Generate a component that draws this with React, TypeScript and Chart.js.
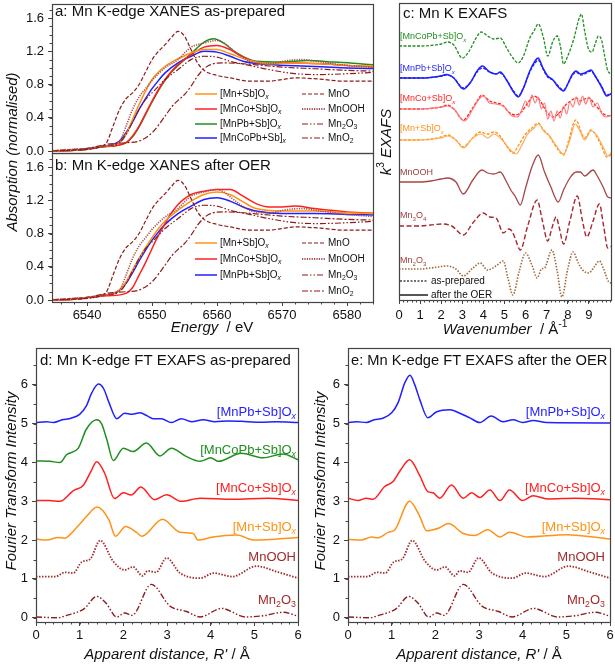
import React, { useEffect, useRef } from "react";
import { Chart, registerables } from "chart.js";

Chart.register(...registerables);

const FONT = '"Liberation Sans", Arial, Helvetica, sans-serif';
const W = 615;
const H = 664;

// ---------- colours ----------
const C_ORANGE = "#ff9214";
const C_RED = "#ff1f1f";
const C_GREEN = "#1f8f1f";
const C_BLUE = "#1f1fff";
const C_DARKRED = "#8e1b1b";
const C_BROWN = "#a8504a";
const C_TAN = "#a06a3a";

// ---------- XANES (a: as-prepared) [energy eV, normalised absorption] ----------
const xanesPrepMnSb = [[6534,0],[6538,0.01],[6540,0.02],[6542,0.05],[6544,0.07],[6545,0.1],[6546,0.2],[6547,0.38],[6548,0.56],[6549,0.72],[6550,0.86],[6551,0.95],[6552,1.02],[6553,1.07],[6554,1.11],[6556,1.18],[6558,1.22],[6560,1.22],[6562,1.17],[6565,1.09],[6568,1.05],[6572,1.06],[6576,1.05],[6580,1.03],[6585,1.02]];
const xanesPrepMnCoSb = [[6534,0],[6538,0.01],[6540,0.02],[6542,0.05],[6544,0.06],[6546,0.1],[6547,0.18],[6548,0.3],[6549,0.45],[6550,0.6],[6551,0.74],[6552,0.86],[6553,0.96],[6554,1.04],[6556,1.16],[6558,1.25],[6560,1.27],[6562,1.22],[6564,1.13],[6566,1.07],[6568,1.05],[6572,1.06],[6576,1.05],[6580,1.03],[6585,1.01]];
const xanesPrepMnPbSb = [[6534,0],[6538,0.01],[6540,0.02],[6542,0.05],[6544,0.06],[6546,0.1],[6547,0.17],[6548,0.29],[6549,0.44],[6550,0.59],[6551,0.73],[6552,0.85],[6553,0.95],[6554,1.03],[6556,1.17],[6558,1.31],[6559.5,1.35],[6561,1.3],[6563,1.18],[6566,1.08],[6570,1.07],[6574,1.09],[6578,1.07],[6582,1.05],[6585,1.03]];
const xanesPrepMnCoPbSb = [[6534,0],[6538,0.01],[6540,0.03],[6542,0.05],[6544,0.08],[6545,0.12],[6546,0.22],[6547,0.35],[6548,0.5],[6549,0.63],[6550,0.75],[6551,0.85],[6552,0.94],[6554,1.06],[6556,1.14],[6558,1.2],[6560,1.19],[6562,1.14],[6564,1.08],[6568,1.04],[6574,1.02],[6580,1.0],[6585,0.99]];

// reference oxides
const refMnO = [[6534,0],[6538,0.01],[6540,0.02],[6542,0.05],[6543,0.1],[6544,0.3],[6545,0.5],[6546,0.63],[6547,0.7],[6548,0.8],[6549,0.95],[6550,1.1],[6551,1.2],[6552,1.28],[6553,1.37],[6554,1.44],[6555,1.38],[6556,1.22],[6557,1.06],[6558,0.97],[6560,0.91],[6562,0.88],[6565,0.84],[6568,0.84],[6570,0.86],[6572,0.88],[6575,0.87],[6580,0.84],[6585,0.84]];
const refMnOOH = [[6534,0],[6538,0.02],[6540,0.03],[6543,0.06],[6545,0.12],[6546,0.3],[6547,0.5],[6548,0.65],[6549,0.75],[6550,0.85],[6552,1.0],[6554,1.1],[6555,1.18],[6556,1.25],[6557,1.28],[6558,1.3],[6560,1.33],[6561,1.3],[6563,1.18],[6565,1.08],[6568,1.05],[6571,1.09],[6573,1.1],[6576,1.07],[6580,1.03],[6585,1.0]];
const refMn2O3 = [[6534,0],[6538,0.01],[6540,0.02],[6543,0.06],[6545,0.1],[6546,0.2],[6547,0.35],[6548,0.5],[6549,0.62],[6550,0.7],[6551,0.78],[6552,0.86],[6554,0.98],[6556,1.1],[6558,1.14],[6560,1.13],[6562,1.08],[6565,1.03],[6568,0.98],[6572,0.93],[6576,0.92],[6580,0.93],[6585,0.95]];
const refMnO2 = [[6534,0],[6538,0.02],[6540,0.03],[6543,0.08],[6546,0.1],[6548,0.12],[6550,0.22],[6552,0.42],[6553,0.53],[6554,0.61],[6555,0.68],[6556,0.78],[6557,0.9],[6558,0.99],[6559,1.04],[6561,1.06],[6564,1.05],[6567,1.03],[6570,1.01],[6575,0.99],[6580,0.97],[6585,0.96]];

// ---------- XANES (b: after OER) ----------
const xanesOerMnSb = [[6534,0],[6538,0.01],[6540,0.03],[6542,0.05],[6544,0.08],[6545,0.12],[6546,0.22],[6547,0.36],[6548,0.5],[6549,0.63],[6550,0.75],[6551,0.86],[6552,0.95],[6554,1.08],[6556,1.19],[6558,1.27],[6560,1.3],[6562,1.27],[6564,1.18],[6566,1.1],[6570,1.07],[6575,1.07],[6580,1.05],[6585,1.04]];
const xanesOerMnCoSb = [[6534,0],[6538,0.01],[6540,0.03],[6543,0.05],[6546,0.08],[6547,0.15],[6548,0.3],[6549,0.45],[6550,0.62],[6551,0.78],[6552,0.92],[6553,1.05],[6554,1.15],[6555,1.22],[6556,1.27],[6558,1.31],[6560,1.33],[6562,1.33],[6564,1.25],[6566,1.16],[6568,1.12],[6570,1.12],[6572,1.13],[6575,1.1],[6580,1.06],[6585,1.04]];
const xanesOerMnPbSb = [[6534,0],[6538,0.01],[6540,0.03],[6542,0.05],[6544,0.08],[6545,0.12],[6546,0.2],[6547,0.33],[6548,0.47],[6549,0.6],[6550,0.72],[6551,0.82],[6552,0.91],[6554,1.04],[6556,1.13],[6558,1.21],[6560,1.23],[6562,1.19],[6564,1.12],[6566,1.07],[6570,1.04],[6575,1.04],[6580,1.03],[6585,1.02]];

// ---------- k3 EXAFS (c) [k / A^-1, k3 chi (stack units)] ----------
const exafsOffsets = { MnCoPbSb: 254, MnPbSb: 222, MnCoSb: 191, MnSb: 160, MnOOH: 118, Mn3O4: 74, Mn2O3: 31 };
const exafsPrepMnCoPbSb = [[0,0],[0.5,0],[1,0],[1.5,0.5],[2,2],[2.3,4],[2.6,1],[3.0,-12],[3.3,-6],[3.6,6],[3.9,14],[4.2,10],[4.5,7],[4.8,8],[5.1,-2],[5.4,-12],[5.65,-17],[5.9,-10],[6.2,8],[6.4,15],[6.6,22],[6.85,8],[7.05,-10],[7.3,5],[7.5,10],[7.65,0],[7.8,-18],[8.0,-10],[8.3,8],[8.5,25],[8.65,32],[8.8,15],[9.0,-4],[9.15,-6],[9.3,2],[9.45,10],[9.6,6],[9.75,-10],[9.9,-25],[10.1,-28]];
const exafsPrepMnPbSb = [[0,0],[1,0],[1.5,0.5],[2,2],[2.25,3],[2.6,0],[3.05,-10],[3.4,-4],[3.7,6],[3.95,10],[4.3,6],[4.6,4],[4.8,5],[5.1,-2],[5.4,-12],[5.65,-18],[5.9,-10],[6.2,6],[6.45,15],[6.6,18],[6.8,10],[7.05,1],[7.3,-2],[7.55,-8],[7.8,-12],[8.0,-6],[8.2,2],[8.4,6],[8.6,3],[8.8,4],[9.1,7],[9.3,2],[9.6,-8],[9.85,-17],[10.1,-15]];
const exafsOerMnPbSb = [[0,0],[1,0],[1.5,0.5],[2,2],[2.25,3.5],[2.6,0],[3.05,-11],[3.4,-4],[3.7,7],[3.95,12],[4.3,6],[4.6,4],[4.8,6],[5.1,-2],[5.4,-13],[5.65,-19],[5.9,-10],[6.2,7],[6.45,17],[6.6,20],[6.8,11],[7.05,2],[7.3,-2],[7.55,-9],[7.8,-13],[8.0,-6],[8.2,3],[8.4,7],[8.6,4],[8.8,5],[9.1,8],[9.3,2],[9.6,-9],[9.85,-18],[10.1,-15]];
const exafsPrepMnCoSb = [[0,0],[1,0],[1.5,0.5],[2,2],[2.3,4],[2.6,0],[3.05,-11],[3.4,-2],[3.7,8],[3.93,14],[4.3,8],[4.6,6],[4.9,4],[5.2,-3],[5.5,-6],[5.8,-3],[6.1,6],[6.4,13],[6.7,8],[7.0,-3],[7.3,-8],[7.6,-4],[7.9,4],[8.2,9],[8.4,11],[8.6,8],[8.8,10],[9.0,11],[9.3,4],[9.6,-3],[9.9,-7],[10.1,-6]];
const exafsOerMnCoSb = [[0,0],[1,0],[2,2],[2.3,3],[2.6,0],[3.1,-12],[3.5,0],[3.8,10],[4.0,13],[4.3,6],[4.6,5],[5.0,2],[5.3,-6],[5.6,-8],[5.8,-2],[6.0,8],[6.15,2],[6.3,14],[6.45,6],[6.6,12],[6.75,0],[6.9,6],[7.05,-10],[7.2,-2],[7.35,-12],[7.5,-2],[7.65,-9],[7.8,3],[7.95,-5],[8.1,7],[8.25,2],[8.4,12],[8.55,4],[8.7,13],[8.85,5],[9.0,12],[9.2,2],[9.4,6],[9.6,-4],[9.8,-8],[10.1,-6]];
const exafsPrepMnSb = [[0,0],[1,0],[1.5,1],[2,3],[2.3,5],[2.7,0],[3.05,-7],[3.4,0],[3.85,8],[4.2,6],[4.5,8],[4.8,4],[5.1,-6],[5.4,-13],[5.7,-4],[6.0,6],[6.3,12],[6.6,17],[6.85,10],[7.05,6],[7.3,-2],[7.55,-10],[7.8,-15],[8.05,0],[8.3,18],[8.4,20],[8.6,10],[8.8,2],[9.1,10],[9.3,6],[9.6,-6],[9.85,-17],[10.1,-14]];
const exafsOerMnSb = [[0,0],[1,0],[2,2],[2.3,4],[2.7,0],[3.05,-8],[3.5,2],[3.9,6],[4.2,2],[4.5,6],[4.9,0],[5.2,-8],[5.55,-14],[5.8,-6],[6.1,6],[6.4,12],[6.6,16],[6.9,8],[7.1,5],[7.4,-4],[7.8,-14],[8.1,0],[8.35,16],[8.6,8],[8.8,0],[9.1,9],[9.4,4],[9.7,-8],[9.9,-16],[10.1,-12]];
const exafsMnOOH = [[0,0],[1,0],[1.5,1],[2,3],[2.3,4],[2.7,0],[3.05,-12],[3.5,2],[3.93,12],[4.2,9],[4.5,8],[4.8,10],[5.1,0],[5.3,-8],[5.5,-14],[5.75,-23],[6.0,-6],[6.3,15],[6.6,27],[6.9,10],[7.2,-5],[7.55,-20],[7.8,-8],[8.1,4],[8.4,10],[8.6,10],[8.8,6],[9.2,12],[9.4,6],[9.7,-6],[9.9,-15],[10.1,-16]];
const exafsMn3O4 = [[0,0],[1,0],[1.5,1],[2.05,2],[2.5,0],[3.05,-9],[3.5,3],[4.0,13],[4.3,9],[4.6,8],[4.95,-7],[5.2,-3],[5.35,-5],[5.5,-12],[5.75,-24],[6.1,0],[6.55,26],[6.8,5],[7.05,-15],[7.25,-2],[7.45,9],[7.6,-2],[7.8,-18],[8.1,5],[8.45,30],[8.7,5],[8.9,-11],[9.2,5],[9.5,22],[9.7,0],[9.9,-22],[10.1,-20]];
const exafsMn2O3 = [[0,0],[1,0],[1.5,1],[2.27,3],[2.7,0],[3.05,-7],[3.5,1],[3.85,6],[4.2,-1],[4.6,3],[4.95,8],[5.15,-8],[5.4,-26],[5.7,-2],[6.0,16],[6.3,4],[6.55,-9],[6.75,0],[6.9,1],[7.25,19],[7.5,-2],[7.72,-28],[8.0,0],[8.25,17],[8.5,6],[8.7,-1],[9.0,-4],[9.25,2],[9.5,8],[9.7,0],[9.95,-13],[10.1,-14]];

// ---------- FT EXAFS (d: as-prepared, e: after OER) [R' / A, intensity + offset] ----------
const ftPrepMnPbSb = [[0,5.03],[0.24,5.05],[0.4,5.03],[0.6,5.1],[0.8,5.14],[1.0,5.24],[1.15,5.45],[1.28,5.8],[1.43,6.02],[1.55,5.9],[1.67,5.55],[1.85,5.13],[2.03,5.27],[2.2,5.24],[2.38,5.28],[2.55,5.2],[2.68,5.13],[2.87,5.13],[3.1,5.03],[3.33,5.13],[3.56,5.05],[3.83,5.1],[4.1,5.05],[4.4,5.07],[4.7,5.06],[5.13,5.04],[5.5,5.05],[6,5.03]];
const ftPrepMnCoPbSb = [[0,4.04],[0.32,4.03],[0.55,4.0],[0.7,4.2],[0.97,4.37],[1.15,4.85],[1.39,5.1],[1.5,5.0],[1.62,4.6],[1.77,4.05],[2.0,4.37],[2.22,4.28],[2.53,4.5],[2.84,4.17],[3.1,4.37],[3.45,4.15],[3.76,4.03],[4.0,4.12],[4.18,4.03],[4.7,4.24],[5.2,4.12],[5.66,4.22],[6,4.07]];
const ftPrepMnCoSb = [[0,3.02],[0.3,3.02],[0.55,3.0],[0.85,3.27],[1.08,3.41],[1.25,3.75],[1.39,4.02],[1.57,3.73],[1.8,3.07],[2.0,3.22],[2.18,3.16],[2.4,3.37],[2.72,3.04],[2.99,3.17],[3.33,3.0],[3.76,3.08],[4.5,3.05],[5.3,3.08],[6,3.02]];
const ftPrepMnSb = [[0,2.03],[0.25,2.0],[0.5,2.07],[0.65,2.05],[0.95,2.35],[1.15,2.6],[1.4,2.85],[1.67,2.52],[1.82,2.1],[2.05,2.35],[2.3,2.2],[2.42,2.1],[2.9,2.54],[3.3,2.2],[3.6,2.17],[3.71,2.0],[4.05,2.08],[4.6,2.13],[5.0,2.0],[6,2.07]];
const ftMnOOH = [[0,1.06],[0.44,1.06],[0.67,1.17],[0.85,1.15],[1.05,1.44],[1.24,1.51],[1.47,1.99],[1.77,1.45],[2.03,1.23],[2.22,1.31],[2.44,1.08],[2.56,1.21],[2.75,1.17],[2.99,1.54],[3.3,1.15],[3.76,1.02],[4.07,1.15],[4.5,1.06],[5.05,1.33],[5.5,1.19],[6,1.02]];
const ftMn2O3 = [[0,0.02],[0.5,0.0],[0.7,0.06],[1.1,0.23],[1.39,0.55],[1.6,0.38],[1.85,0.02],[2.03,0.12],[2.2,0.06],[2.64,0.86],[3.07,0.3],[3.45,0.16],[3.76,0.02],[4.25,0.24],[4.8,0.02],[5.2,0.05],[5.66,0.14],[6,0.04]];
const ftOerMnPbSb = [[0,5.03],[0.2,5.05],[0.42,5.03],[0.6,5.1],[0.8,5.14],[1.0,5.28],[1.15,5.55],[1.3,6.05],[1.42,6.25],[1.53,6.0],[1.65,5.6],[1.83,5.15],[2.02,5.3],[2.33,5.36],[2.56,5.27],[2.79,5.15],[3.02,5.03],[3.28,5.2],[3.55,5.05],[3.78,5.1],[4.0,5.03],[4.24,5.08],[4.55,5.03],[6,5.02]];
const ftOerMnCoSb = [[0,3.08],[0.23,3.02],[0.42,3.08],[0.57,3.05],[0.84,3.38],[1.03,3.51],[1.2,3.8],[1.41,4.07],[1.64,3.67],[1.83,3.25],[1.95,3.22],[2.1,3.08],[2.37,3.42],[2.64,3.08],[2.83,3.22],[3.02,3.1],[3.25,3.29],[3.48,3.02],[3.7,3.29],[4.0,3.02],[4.24,3.14],[4.6,3.06],[5.2,3.08],[6,3.04]];
const ftOerMnSb = [[0,2.02],[0.3,2.0],[0.54,2.08],[0.69,2.06],[0.92,2.2],[1.07,2.26],[1.41,3.0],[1.64,2.62],[1.8,2.24],[2.1,2.32],[2.3,2.43],[2.64,2.17],[2.9,2.12],[3.2,2.27],[3.48,2.08],[3.7,2.2],[4.1,2.08],[5.0,2.14],[6,2.03]];

// ---------- ticks ----------
const xanesYTicks = [0, 0.4, 0.8, 1.2, 1.6];
const xanesXTicks = [6540, 6550, 6560, 6570, 6580];
const exafsXTicks = [0, 1, 2, 3, 4, 5, 6, 7, 8, 9];
const ftTicks = [0, 1, 2, 3, 4, 5, 6];

// ---------- styles ----------
const DASH_MnO = [4, 2];
const DASH_MnOOH = [1.2, 1.2];
const DASH_Mn2O3 = [6, 2, 1.5, 2, 1.5, 2];
const DASH_MnO2 = [6, 2, 2, 2];

// ---------- rich text helper ----------
type Seg = { t: string; it: boolean; sub: boolean; sup: boolean };
function parseRich(s: string): Seg[] {
  const segs: Seg[] = [];
  let it = false;
  let mode = "n";
  let buf = "";
  const push = () => {
    if (buf) segs.push({ t: buf, it, sub: mode === "sub", sup: mode === "sup" });
    buf = "";
  };
  for (let i = 0; i < s.length; i++) {
    const c = s[i];
    if (c === "~") { push(); it = !it; continue; }
    if ((c === "_" || c === "^") && s[i + 1] === "{") { push(); mode = c === "_" ? "sub" : "sup"; i++; continue; }
    if (c === "}" && mode !== "n") { push(); mode = "n"; continue; }
    buf += c;
  }
  push();
  return segs;
}
type TextSpec = { s: string; x: number; y: number; size: number; color?: string; align?: string; rot?: number };
function drawRich(ctx: CanvasRenderingContext2D, t: TextSpec) {
  const segs = parseRich(t.s);
  const fontOf = (g: Seg) => `${g.it ? "italic " : ""}${g.sub || g.sup ? (t.size * 0.68).toFixed(1) : t.size}px ${FONT}`;
  let w = 0;
  const ws = segs.map((g) => { ctx.font = fontOf(g); const m = ctx.measureText(g.t).width; w += m; return m; });
  ctx.save();
  ctx.translate(t.x, t.y);
  if (t.rot) ctx.rotate(t.rot);
  ctx.fillStyle = t.color || "#111";
  ctx.textBaseline = "middle";
  ctx.textAlign = "left";
  let cx = t.align === "right" ? -w : t.align === "center" ? -w / 2 : 0;
  segs.forEach((g, i) => {
    ctx.font = fontOf(g);
    const dy = g.sub ? t.size * 0.32 : g.sup ? -t.size * 0.38 : 0;
    ctx.fillText(g.t, cx, dy);
    cx += ws[i];
  });
  ctx.restore();
}

type LegendItem = { x0: number; x1: number; y: number; color: string; dash?: number[]; width?: number; label: string; size: number };
type Minor = { from: number; to: number; step: number };
type Deco = { texts: TextSpec[]; legend?: LegendItem[]; xMinor?: Minor; yMinor?: Minor };

function decoPlugin(d: Deco) {
  return {
    id: "deco",
    afterDraw(chart: any) {
      const ctx: CanvasRenderingContext2D = chart.ctx;
      const a = chart.chartArea;
      ctx.save();
      ctx.strokeStyle = "#444";
      ctx.lineWidth = 1.2;
      ctx.setLineDash([]);
      ctx.strokeRect(a.left + 0.5, a.top + 0.5, a.right - a.left, a.bottom - a.top);
      ctx.lineWidth = 1;
      if (d.xMinor) {
        const sx = chart.scales.x;
        for (let v = d.xMinor.from; v <= d.xMinor.to + 1e-9; v += d.xMinor.step) {
          const px = Math.round(sx.getPixelForValue(v)) + 0.5;
          ctx.beginPath(); ctx.moveTo(px, a.bottom); ctx.lineTo(px, a.bottom + 2.5); ctx.stroke();
        }
      }
      if (d.yMinor) {
        const sy = chart.scales.y;
        for (let v = d.yMinor.from; v <= d.yMinor.to + 1e-9; v += d.yMinor.step) {
          const py = Math.round(sy.getPixelForValue(v)) + 0.5;
          ctx.beginPath(); ctx.moveTo(a.left - 2.5, py); ctx.lineTo(a.left, py); ctx.stroke();
        }
      }
      (d.legend || []).forEach((l) => {
        ctx.strokeStyle = l.color;
        ctx.lineWidth = l.width || 1.5;
        ctx.setLineDash(l.dash || []);
        ctx.beginPath(); ctx.moveTo(l.x0, l.y); ctx.lineTo(l.x1, l.y); ctx.stroke();
        ctx.setLineDash([]);
        drawRich(ctx, { s: l.label, x: l.x1 + 3, y: l.y, size: l.size, color: "#111" });
      });
      d.texts.forEach((t) => drawRich(ctx, t));
      ctx.restore();
    },
  };
}

function line(data: number[][], color: string, dash: number[] = [], width = 1.5, offset = 0) {
  return {
    data: data.map(([x, y]) => ({ x, y: y + offset })),
    borderColor: color,
    borderWidth: width,
    borderDash: dash,
    pointRadius: 0,
    fill: false,
    cubicInterpolationMode: "monotone",
  };
}

function axis(horizontal: boolean, size: number, min: number, max: number, majors: number[], labels: boolean, fmt: (v: number) => string, pad: number) {
  return {
    type: "linear",
    min,
    max,
    afterFit: (s: any) => {
      if (horizontal) s.height = size; else s.width = size;
      s.paddingLeft = 0; s.paddingRight = 0; s.paddingTop = 0; s.paddingBottom = 0;
    },
    afterBuildTicks: (s: any) => { s.ticks = majors.map((v) => ({ value: v })); },
    ticks: { display: labels, autoSkip: false, maxRotation: 0, minRotation: 0, padding: pad, color: "#111", font: { family: FONT, size: 13 }, callback: (v: any) => fmt(Number(v)) },
    grid: { display: majors.length > 0, drawOnChartArea: false, drawTicks: true, tickLength: 4, color: "#444", lineWidth: 1 },
    border: { display: false },
  };
}

type Rect = { l: number; t: number; r: number; b: number };
function makeConfig(rect: Rect, datasets: any[], x: any, xSize: number, y: any, ySize: number, deco: Deco) {
  return {
    type: "line",
    data: { datasets },
    options: {
      responsive: false,
      animation: false,
      devicePixelRatio: 1,
      layout: { padding: { left: rect.l - ySize, top: rect.t, right: W - rect.r, bottom: H - rect.b - xSize } },
      plugins: { legend: { display: false }, tooltip: { enabled: false }, title: { display: false } },
      scales: { x, y },
    },
    plugins: [decoPlugin(deco)],
  };
}

const f1 = (v: number) => v.toFixed(1);
const f0 = (v: number) => String(Math.round(v));

function buildConfigs() {
  const xanesY = () => axis(false, 45, -0.024, 1.769, xanesYTicks, true, f1, 4);
  const LEG = 10;
  const legRefs = (rows: number[]): LegendItem[] => [
    { x0: 302, x1: 325, y: rows[0], color: C_DARKRED, dash: DASH_MnO, width: 1.2, label: "MnO", size: LEG },
    { x0: 302, x1: 325, y: rows[1], color: C_BROWN, dash: DASH_MnOOH, width: 2, label: "MnOOH", size: LEG },
    { x0: 302, x1: 325, y: rows[2], color: C_DARKRED, dash: DASH_Mn2O3, width: 1.2, label: "Mn_{2}O_{3}", size: LEG },
    { x0: 302, x1: 325, y: rows[3], color: C_DARKRED, dash: DASH_MnO2, width: 1.2, label: "MnO_{2}", size: LEG },
  ];
  const refSets = () => [
    line(refMnO, C_DARKRED, DASH_MnO, 1.2),
    line(refMnOOH, C_BROWN, DASH_MnOOH, 1.6),
    line(refMn2O3, C_DARKRED, DASH_Mn2O3, 1.2),
    line(refMnO2, C_DARKRED, DASH_MnO2, 1.2),
  ];

  const rowsA = [94, 109, 124, 138];
  const cfgA = makeConfig(
    { l: 52, t: 4, r: 373, b: 153 },
    [...refSets(), line(xanesPrepMnSb, C_ORANGE), line(xanesPrepMnCoSb, C_RED), line(xanesPrepMnPbSb, C_GREEN), line(xanesPrepMnCoPbSb, C_BLUE)],
    axis(true, 0, 6534.6, 6584, [], false, f0, 2), 0,
    xanesY(), 45,
    {
      yMinor: { from: 0, to: 1.7, step: 0.1 },
      legend: [
        { x0: 195, x1: 217, y: rowsA[0], color: C_ORANGE, label: "[Mn+Sb]O_{~x~}", size: LEG },
        { x0: 195, x1: 217, y: rowsA[1], color: C_RED, label: "[MnCo+Sb]O_{~x~}", size: LEG },
        { x0: 195, x1: 217, y: rowsA[2], color: C_GREEN, label: "[MnPb+Sb]O_{~x~}", size: LEG },
        { x0: 195, x1: 217, y: rowsA[3], color: C_BLUE, label: "[MnCoPb+Sb]_{~x~}", size: LEG },
        ...legRefs(rowsA),
      ],
      texts: [
        { s: "a: Mn K-edge XANES as-prepared", x: 55, y: 12, size: 15 },
        { s: "~Absorption (normalised)~", x: 13, y: 152, size: 15, align: "center", rot: -Math.PI / 2 },
      ],
    }
  );

  const rowsB = [243, 259, 275, 291];
  const cfgB = makeConfig(
    { l: 52, t: 153, r: 373, b: 302 },
    [...refSets(), line(xanesOerMnSb, C_ORANGE), line(xanesOerMnCoSb, C_RED), line(xanesOerMnPbSb, C_BLUE)],
    axis(true, 22, 6534.6, 6584, xanesXTicks, true, f0, 2), 22,
    xanesY(), 45,
    {
      yMinor: { from: 0, to: 1.7, step: 0.1 },
      xMinor: { from: 6536, to: 6584, step: 2 },
      legend: [
        { x0: 195, x1: 217, y: rowsB[0], color: C_ORANGE, label: "[Mn+Sb]O_{~x~}", size: LEG },
        { x0: 195, x1: 217, y: rowsB[1], color: C_RED, label: "[MnCo+Sb]O_{~x~}", size: LEG },
        { x0: 195, x1: 217, y: rowsB[2], color: C_BLUE, label: "[MnPb+Sb]O_{~x~}", size: LEG },
        ...legRefs(rowsB),
      ],
      texts: [
        { s: "b: Mn K-edge XANES after OER", x: 55, y: 166, size: 15 },
        { s: "~Energy~  / eV", x: 212, y: 328, size: 15, align: "center" },
      ],
    }
  );

  const o = exafsOffsets;
  const CL = 9;
  const cfgC = makeConfig(
    { l: 399, t: 3, r: 611, b: 300 },
    [
      line(exafsPrepMnCoPbSb, C_GREEN, [3, 1.5], 1.3, o.MnCoPbSb),
      line(exafsOerMnPbSb, C_BLUE, [], 1.5, o.MnPbSb),
      line(exafsPrepMnPbSb, C_BLUE, [3, 1.5], 1.3, o.MnPbSb),
      line(exafsOerMnCoSb, "#ff7a7a", [], 1.2, o.MnCoSb),
      line(exafsPrepMnCoSb, C_RED, [3, 1.5], 1.3, o.MnCoSb),
      line(exafsOerMnSb, "#ffab55", [], 1.2, o.MnSb),
      line(exafsPrepMnSb, C_ORANGE, [3, 1.5], 1.3, o.MnSb),
      line(exafsMnOOH, "#a84444", [], 1.3, o.MnOOH),
      line(exafsMn3O4, "#a8262e", [5, 2.5], 1.4, o.Mn3O4),
      line(exafsMn2O3, C_TAN, [1.5, 1.5], 1.6, o.Mn2O3),
    ],
    axis(true, 24, 0, 10.05, exafsXTicks, true, f0, 4), 24,
    axis(false, 0, 0, 297, [], false, f0, 2), 0,
    {
      xMinor: { from: 0, to: 10, step: 0.2 },
      legend: [
        { x0: 400, x1: 428, y: 281, color: "#444", dash: [2, 1.5], width: 1.5, label: "as-prepared", size: 10 },
        { x0: 400, x1: 428, y: 295, color: "#555", width: 2, label: "after the OER", size: 10 },
      ],
      texts: [
        { s: "c: Mn K EXAFS", x: 403, y: 14, size: 15 },
        { s: "[MnCoPb+Sb]O_{~x~}", x: 400, y: 37, size: CL, color: C_GREEN },
        { s: "[MnPb+Sb]O_{~x~}", x: 400, y: 69, size: CL, color: C_BLUE },
        { s: "[MnCo+Sb]O_{~x~}", x: 400, y: 99, size: CL, color: C_RED },
        { s: "[Mn+Sb]O_{~x~}", x: 400, y: 129, size: CL, color: C_ORANGE },
        { s: "MnOOH", x: 400, y: 173, size: CL, color: "#a03c3c" },
        { s: "Mn_{3}O_{4}", x: 400, y: 216, size: CL, color: "#a03c3c" },
        { s: "Mn_{2}O_{3}", x: 400, y: 261, size: CL, color: "#a03c3c" },
        { s: "~k~^{3} ~EXAFS~", x: 387, y: 142, size: 15, align: "center", rot: -Math.PI / 2 },
        { s: "~Wavenumber~  / Å^{-1}", x: 505, y: 330, size: 15, align: "center" },
      ],
    }
  );

  const ftX = () => axis(true, 22, 0, 6, ftTicks, true, f0, 2);
  const ftY = (size: number) => axis(false, size, -0.11, 6.95, ftTicks, true, f0, 4);
  const FL = 13;
  const ftRefs = () => [
    line(ftMnOOH, "#a52a2a", [1.5, 1.5], 1.8),
    line(ftMn2O3, C_DARKRED, DASH_Mn2O3, 1.4),
  ];
  const cfgD = makeConfig(
    { l: 36, t: 348, r: 298, b: 622 },
    [...ftRefs(), line(ftPrepMnSb, C_ORANGE), line(ftPrepMnCoSb, C_RED), line(ftPrepMnCoPbSb, C_GREEN), line(ftPrepMnPbSb, C_BLUE)],
    ftX(), 22, ftY(34), 34,
    {
      xMinor: { from: 0, to: 6, step: 0.2 },
      yMinor: { from: 0, to: 6.5, step: 0.5 },
      texts: [
        { s: "d: Mn K-edge FT EXAFS as-prepared", x: 40, y: 361, size: 15 },
        { s: "[MnPb+Sb]O_{~x~}", x: 296, y: 412, size: FL, color: C_BLUE, align: "right" },
        { s: "[MnCoPb+Sb]O_{~x~}", x: 296, y: 450, size: FL, color: C_GREEN, align: "right" },
        { s: "[MnCo+Sb]O_{~x~}", x: 296, y: 488, size: FL, color: C_RED, align: "right" },
        { s: "[Mn+Sb]O_{~x~}", x: 296, y: 527, size: FL, color: C_ORANGE, align: "right" },
        { s: "MnOOH", x: 296, y: 557, size: FL, color: "#a52a2a", align: "right" },
        { s: "Mn_{2}O_{3}", x: 296, y: 600, size: FL, color: "#a52a2a", align: "right" },
        { s: "~Fourier Transform Intensity~", x: 12, y: 481, size: 15, align: "center", rot: -Math.PI / 2 },
        { s: "~Apparent distance, R'~ / Å", x: 167, y: 655, size: 15, align: "center" },
      ],
    }
  );
  const cfgE = makeConfig(
    { l: 348, t: 348, r: 610, b: 622 },
    [...ftRefs(), line(ftOerMnSb, C_ORANGE), line(ftOerMnCoSb, C_RED), line(ftOerMnPbSb, C_BLUE)],
    ftX(), 22, ftY(40), 40,
    {
      xMinor: { from: 0, to: 6, step: 0.2 },
      yMinor: { from: 0, to: 6.5, step: 0.5 },
      texts: [
        { s: "e: Mn K-edge FT EXAFS after the OER", x: 351, y: 361, size: 14.7 },
        { s: "[MnPb+Sb]O_{~x~}", x: 605, y: 412, size: FL, color: C_BLUE, align: "right" },
        { s: "[MnCo+Sb]O_{~x~}", x: 605, y: 488, size: FL, color: C_RED, align: "right" },
        { s: "[Mn+Sb]O_{~x~}", x: 605, y: 527, size: FL, color: C_ORANGE, align: "right" },
        { s: "MnOOH", x: 605, y: 557, size: FL, color: "#a52a2a", align: "right" },
        { s: "Mn_{2}O_{3}", x: 605, y: 600, size: FL, color: "#a52a2a", align: "right" },
        { s: "~Fourier Transform Intensity~", x: 321, y: 481, size: 15, align: "center", rot: -Math.PI / 2 },
        { s: "~Apparent distance, R'~ / Å", x: 479, y: 655, size: 15, align: "center" },
      ],
    }
  );
  return [cfgA, cfgB, cfgC, cfgD, cfgE];
}

export default function App() {
  const canvases = useRef<(HTMLCanvasElement | null)[]>([]);
  useEffect(() => {
    const cfgs = buildConfigs();
    const charts = cfgs.map((cfg, i) => new Chart(canvases.current[i] as HTMLCanvasElement, cfg as any));
    return () => charts.forEach((c) => c.destroy());
  }, []);
  return (
    <div style={{ position: "absolute", left: 0, top: 0, width: W, height: H, background: "#fff", overflow: "hidden" }}>
      {[0, 1, 2, 3, 4].map((i) => (
        <canvas
          key={i}
          ref={(el) => { canvases.current[i] = el; }}
          width={W}
          height={H}
          style={{ position: "absolute", left: 0, top: 0, width: W, height: H }}
        />
      ))}
    </div>
  );
}
